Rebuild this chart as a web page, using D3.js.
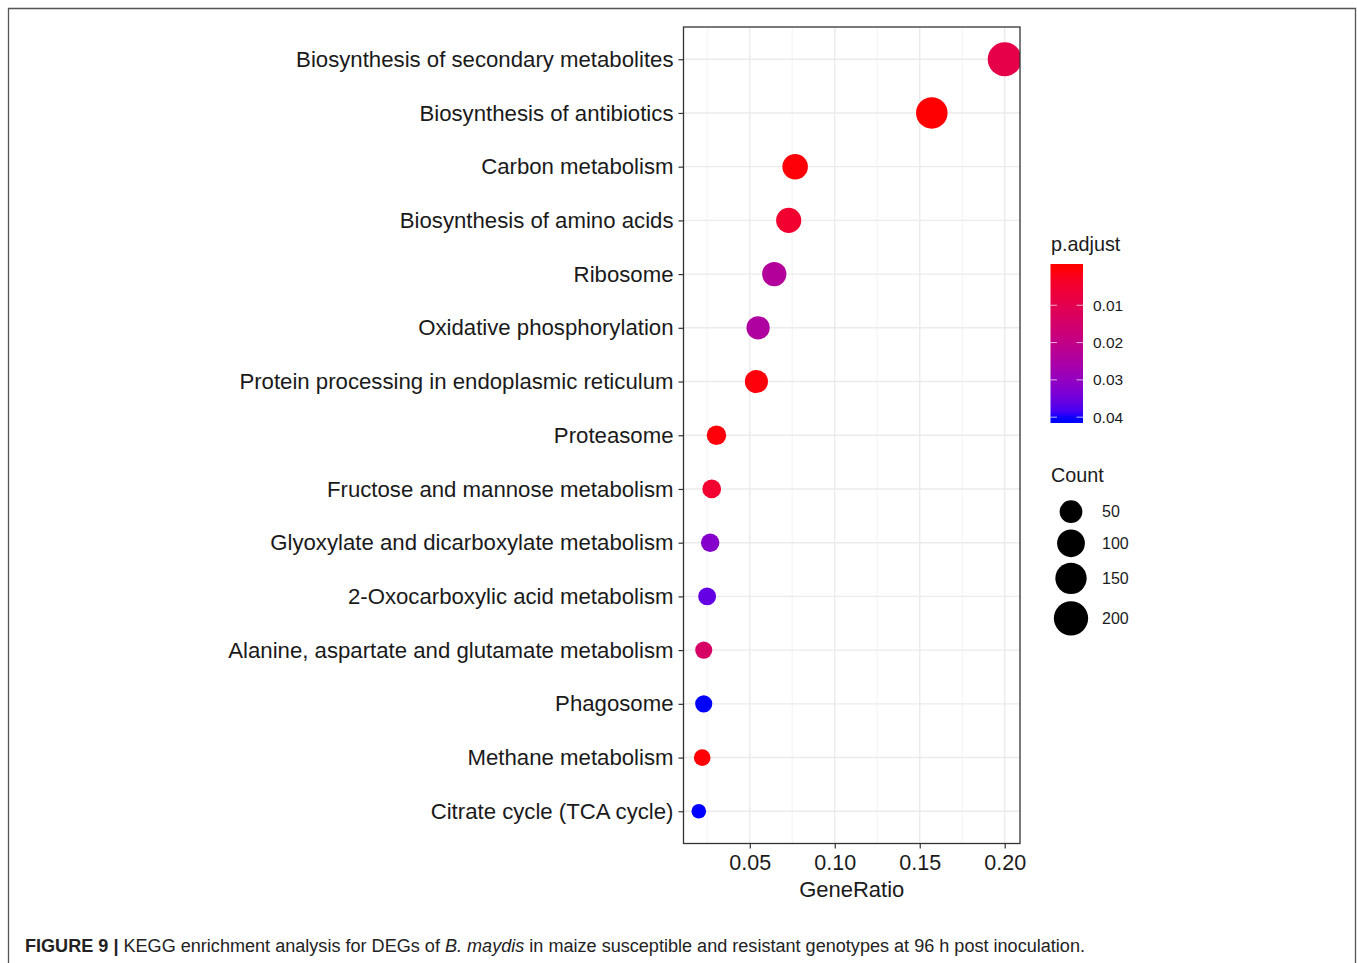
<!DOCTYPE html>
<html>
<head>
<meta charset="utf-8">
<script src="https://cdn.jsdelivr.net/npm/d3@7"></script>
<style>
  body { margin: 0; background: #fff; }
  svg { display: block; font-family: "Liberation Sans", Arial, Helvetica, sans-serif; }
</style>
</head>
<body>
<div id="chart"></div>
<script>
// KEGG enrichment dot plot
const categories = [
    "Biosynthesis of secondary metabolites",
    "Biosynthesis of antibiotics",
    "Carbon metabolism",
    "Biosynthesis of amino acids",
    "Ribosome",
    "Oxidative phosphorylation",
    "Protein processing in endoplasmic reticulum",
    "Proteasome",
    "Fructose and mannose metabolism",
    "Glyoxylate and dicarboxylate metabolism",
    "2-Oxocarboxylic acid metabolism",
    "Alanine, aspartate and glutamate metabolism",
    "Phagosome",
    "Methane metabolism",
    "Citrate cycle (TCA cycle)"
];
const geneRatio = [0.2000, 0.1571, 0.0767, 0.0729, 0.0644, 0.0549, 0.0539, 0.0304, 0.0276, 0.0267, 0.0249, 0.0229, 0.0229, 0.0220, 0.0200];
const counts = [195, 153, 75, 71, 63, 54, 53, 30, 27, 26, 24, 22, 22, 21, 19];
const pAdjust = [0.009, 0.0001, 0.0005, 0.005, 0.0235, 0.0245, 0.0008, 0.0006, 0.005, 0.032, 0.036, 0.014, 0.0405, 0.0004, 0.0405];
const xTicks = [0.05, 0.10, 0.15, 0.20];
const xMinorTicks = [0.025, 0.075, 0.125, 0.175];
const colorBreaks = [0.01, 0.02, 0.03, 0.04];
const sizeBreaks = [50, 100, 150, 200];
const caption = "KEGG enrichment analysis for DEGs of ";

const W = 1357, H = 963;
const panel = { left: 683.5, right: 1020, top: 27, bottom: 843.5 };

const svg = d3.select("#chart").append("svg")
    .attr("width", W).attr("height", H);

// outer figure frame (open at the bottom)
svg.append("path")
    .attr("d", `M8.5,${H} V8.5 H1355.5 V${H}`)
    .attr("fill", "none").attr("stroke", "#555").attr("stroke-width", 1.3);

const rows = categories.map((c, i) => ({
    name: c, ratio: geneRatio[i], count: counts[i], p: pAdjust[i]
}));

// scales
const [xmin, xmax] = d3.extent(geneRatio);
const xpad = (xmax - xmin) * 0.05;
const x = d3.scaleLinear().domain([xmin - xpad, xmax + xpad]).range([panel.left, panel.right]);
const y = d3.scalePoint().domain(categories).range([panel.top, panel.bottom]).padding(0.6);

const [pmin, pmax] = [0, 0.0405];
const color = d3.scaleLinear().domain([pmin, pmax]).range(["red", "blue"]).interpolate(d3.interpolateLab);

const [cmin, cmax] = d3.extent(counts);
const sizeNorm = d3.scaleLinear().domain([cmin, cmax]).range([0, 1]);
const rScale = d3.scaleSqrt().domain([0, 1]).range([7.3, 17.0]);
const radius = c => rScale(Math.max(0, sizeNorm(c)));

// grid
const grid = svg.append("g");
grid.selectAll(".minor").data(xMinorTicks).join("line")
    .attr("x1", d => x(d)).attr("x2", d => x(d))
    .attr("y1", panel.top).attr("y2", panel.bottom)
    .attr("stroke", "#eeeeee").attr("stroke-width", 0.7);
grid.selectAll(".major").data(xTicks).join("line")
    .attr("x1", d => x(d)).attr("x2", d => x(d))
    .attr("y1", panel.top).attr("y2", panel.bottom)
    .attr("stroke", "#ebebeb").attr("stroke-width", 1.4);
grid.selectAll(".hmajor").data(categories).join("line")
    .attr("x1", panel.left).attr("x2", panel.right)
    .attr("y1", d => y(d)).attr("y2", d => y(d))
    .attr("stroke", "#ebebeb").attr("stroke-width", 1.4);

// points (clipped to panel like ggplot)
svg.append("clipPath").attr("id", "panel-clip")
    .append("rect").attr("x", panel.left).attr("y", panel.top)
    .attr("width", panel.right - panel.left).attr("height", panel.bottom - panel.top);

svg.append("g").attr("clip-path", "url(#panel-clip)")
    .selectAll("circle").data(rows).join("circle")
    .attr("cx", d => x(d.ratio))
    .attr("cy", d => y(d.name))
    .attr("r", d => radius(d.count))
    .attr("fill", d => color(d.p));

// panel border
svg.append("rect")
    .attr("x", panel.left).attr("y", panel.top)
    .attr("width", panel.right - panel.left).attr("height", panel.bottom - panel.top)
    .attr("fill", "none").attr("stroke", "#333").attr("stroke-width", 1.3);

// axes
const xAxis = svg.append("g")
    .attr("transform", `translate(0,${panel.bottom})`)
    .call(d3.axisBottom(x).tickValues(xTicks).tickFormat(d3.format(".2f")).tickSize(5).tickPadding(6));
xAxis.select(".domain").remove();
xAxis.selectAll("line").attr("stroke", "#333").attr("stroke-width", 1.2);
xAxis.selectAll("text").attr("font-size", 21.5).attr("fill", "#1a1a1a")
    .attr("font-family", "'Liberation Sans', Arial, sans-serif");

const yAxis = svg.append("g")
    .attr("transform", `translate(${panel.left},0)`)
    .call(d3.axisLeft(y).tickSize(5).tickPadding(5));
yAxis.select(".domain").remove();
yAxis.selectAll("line").attr("stroke", "#333").attr("stroke-width", 1.2);
yAxis.selectAll("text").attr("font-size", 22.2).attr("fill", "#1a1a1a")
    .attr("font-family", "'Liberation Sans', Arial, sans-serif");

svg.append("text")
    .attr("x", (panel.left + panel.right) / 2).attr("y", 897)
    .attr("text-anchor", "middle").attr("font-size", 22).attr("fill", "#1a1a1a")
    .text("GeneRatio");

// colour legend
const bar = { x: 1050.5, y: 264, w: 32.5, h: 159 };
const legend = svg.append("g");
legend.append("text").attr("x", 1051).attr("y", 251)
    .attr("font-size", 19.8).attr("fill", "#1a1a1a").text("p.adjust");

const defs = svg.append("defs");
const grad = defs.append("linearGradient").attr("id", "padj-grad")
    .attr("x1", 0).attr("x2", 0).attr("y1", 0).attr("y2", 1);
const half = 0.5 / 20;
d3.range(0, 1.0001, 0.05).forEach(t => {
    grad.append("stop")
        .attr("offset", half + t * (1 - 2 * half))
        .attr("stop-color", color(pmin + t * (pmax - pmin)));
});
legend.append("rect")
    .attr("x", bar.x).attr("y", bar.y).attr("width", bar.w).attr("height", bar.h)
    .attr("fill", "url(#padj-grad)");

const barScale = d3.scaleLinear().domain([pmin, pmax])
    .range([bar.y + bar.h * half, bar.y + bar.h * (1 - half)]);
const tickLen = bar.w / 5;
colorBreaks.forEach(b => {
    const ty = barScale(b);
    legend.append("line").attr("x1", bar.x).attr("x2", bar.x + tickLen)
        .attr("y1", ty).attr("y2", ty).attr("stroke", "white").attr("stroke-opacity", 0.7).attr("stroke-width", 1);
    legend.append("line").attr("x1", bar.x + bar.w - tickLen).attr("x2", bar.x + bar.w)
        .attr("y1", ty).attr("y2", ty).attr("stroke", "white").attr("stroke-opacity", 0.7).attr("stroke-width", 1);
    legend.append("text").attr("x", 1093).attr("y", ty).attr("dy", "0.36em")
        .attr("font-size", 15.5).attr("fill", "#1a1a1a").text(d3.format(".2f")(b));
});

// size legend
legend.append("text").attr("x", 1051).attr("y", 482)
    .attr("font-size", 19.8).attr("fill", "#1a1a1a").text("Count");
const sizeY = [511.7, 543.3, 578.3, 618.3];
sizeBreaks.forEach((s, i) => {
    legend.append("circle").attr("cx", 1071).attr("cy", sizeY[i])
        .attr("r", radius(s)).attr("fill", "black");
    legend.append("text").attr("x", 1102).attr("y", sizeY[i]).attr("dy", "0.36em")
        .attr("font-size", 16).attr("fill", "#1a1a1a").text(s);
});

// caption
const cap = svg.append("text")
    .attr("x", 25).attr("y", 952)
    .attr("font-size", 18).attr("fill", "#222")
    .attr("textLength", 1060).attr("lengthAdjust", "spacingAndGlyphs");
cap.append("tspan").attr("font-weight", "bold").text("FIGURE 9 | ");
cap.append("tspan").text(caption);
cap.append("tspan").attr("font-style", "italic").text("B. maydis");
cap.append("tspan").text(" in maize susceptible and resistant genotypes at 96 h post inoculation.");
</script>
</body>
</html>
